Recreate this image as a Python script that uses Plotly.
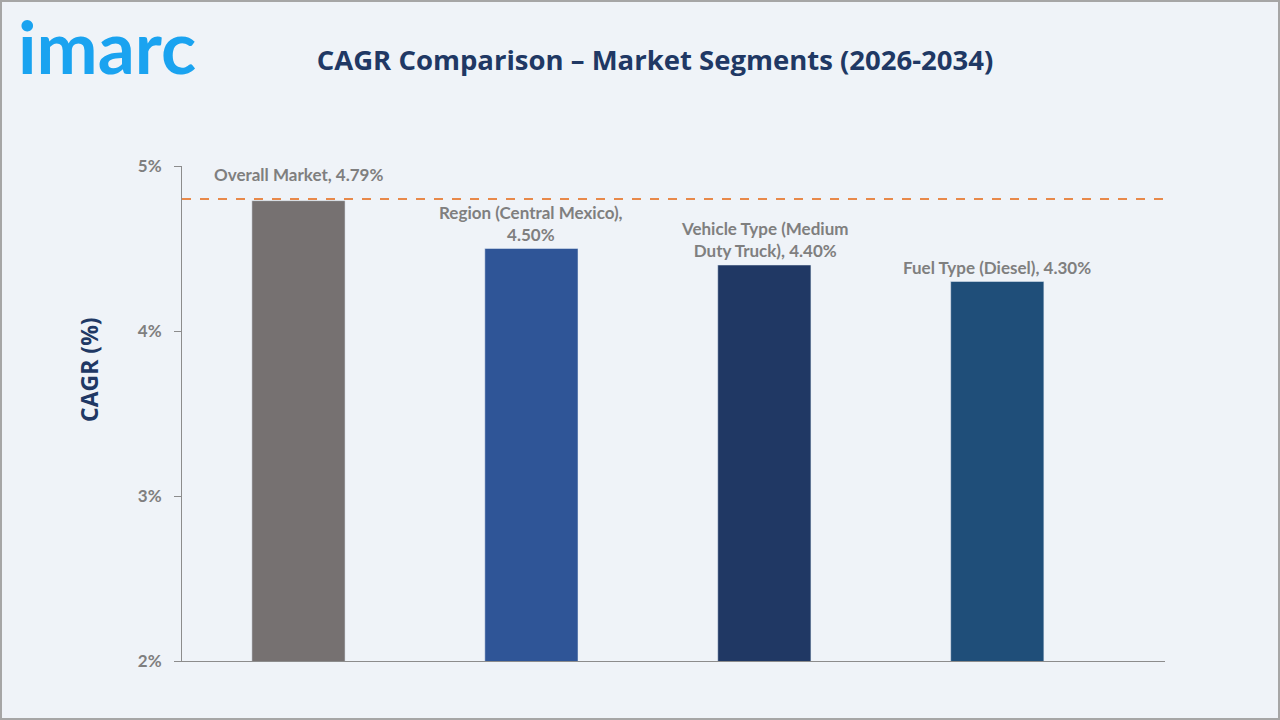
import plotly.graph_objects as go

categories = ["Overall Market", "Region (Central Mexico)", "Vehicle Type (Medium Duty Truck)", "Fuel Type (Diesel)"]
values = [4.79, 4.50, 4.40, 4.30]
labels = ["Overall Market, 4.79%", "Region (Central Mexico),<br>4.50%",
          "Vehicle Type (Medium<br>Duty Truck), 4.40%", "Fuel Type (Diesel), 4.30%"]
bar_colors = ["#767171", "#2F5597", "#203864", "#1F4E79"]
label_shifts = [14, 2, 2, 2]
reference_value = 4.8
y_ticks = [2, 3, 4, 5]
y_tick_labels = ["2%", "3%", "4%", "5%"]

W, H = 1280, 720
ml, mr, mt, mb = 182, 115, 166, 59

fig = go.Figure()
fig.add_trace(go.Bar(
    x=list(range(len(categories))), y=values, marker_color=bar_colors,
    width=0.4, hovertext=categories, showlegend=False,
))

for i, (v, lab, s) in enumerate(zip(values, labels, label_shifts)):
    fig.add_annotation(x=i, y=v, text=lab, showarrow=False, yanchor="bottom",
                       yshift=s, font=dict(family="Lato", size=17, color="#7F7F7F", weight="bold"))

fig.add_shape(type="line", xref="paper", x0=0, x1=1, yref="y", y0=reference_value, y1=reference_value,
              line=dict(color="#E8894A", width=2, dash="dash"))

# outer border
pw, ph = W - ml - mr, H - mt - mb
fig.add_shape(type="rect", xref="paper", yref="paper",
              x0=-(ml - 1) / pw, x1=1 + (mr - 1) / pw, y0=-(mb - 1) / ph, y1=1 + (mt - 1) / ph,
              line=dict(color="#A6A6A6", width=2), layer="below")

fig.add_annotation(xref="paper", yref="paper", x=-(ml - 16) / pw, y=1 + (mt - 46) / ph,
                   xanchor="left", yanchor="middle", text="imarc", showarrow=False,
                   font=dict(family="Lato", size=73, color="#1AA3F0", weight="bold"))

# y axis title
fig.add_annotation(xref="paper", yref="paper", x=-(ml - 89) / pw, y=(H - mb - 370) / ph,
                   xanchor="center", yanchor="middle", text="CAGR (%)", textangle=-90, showarrow=False,
                   font=dict(family="Open Sans", size=23, color="#203864", weight="bold"))

fig.update_layout(
    width=W, height=H,
    margin=dict(l=ml, r=mr, t=mt, b=mb),
    paper_bgcolor="#EFF3F8", plot_bgcolor="#EFF3F8",
    title=dict(text="CAGR Comparison – Market Segments (2026-2034)", x=655 / W, xanchor="center",
               y=1 - 60 / H, yanchor="middle", yref="container",
               font=dict(family="Open Sans", size=27.5, color="#203864", weight="bold")),
    bargap=0.6,
)
fig.update_xaxes(range=[-0.5, 3.72], showticklabels=False, ticks="", showgrid=False,
                 showline=True, linecolor="#8C8C8C", linewidth=1, zeroline=False)
fig.update_yaxes(range=[2, 5], tickmode="array", tickvals=y_ticks, ticktext=y_tick_labels, showgrid=False,
                 showline=True, linecolor="#8C8C8C", linewidth=1, ticks="outside", ticklen=7,
                 tickcolor="#8C8C8C", zeroline=False, ticklabelstandoff=9,
                 tickfont=dict(family="Lato", size=17, color="#7F7F7F", weight="bold"))

fig.write_html("out.html")
